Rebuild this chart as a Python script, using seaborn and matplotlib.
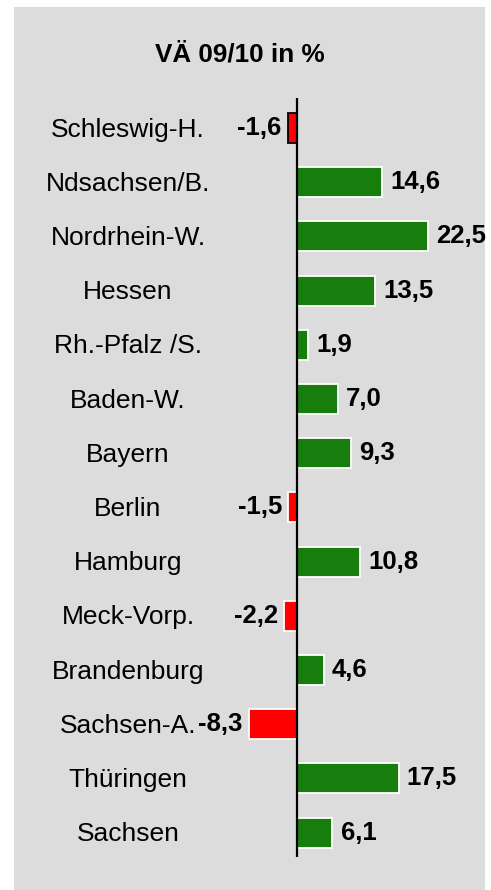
import matplotlib
matplotlib.use("Agg")
import matplotlib.pyplot as plt
import matplotlib.transforms as mtransforms
import seaborn as sns

# data
states = ["Schleswig-H.", "Ndsachsen/B.", "Nordrhein-W.", "Hessen", "Rh.-Pfalz /S.",
          "Baden-W.", "Bayern", "Berlin", "Hamburg", "Meck-Vorp.", "Brandenburg",
          "Sachsen-A.", "Thüringen", "Sachsen"]
change = [-1.6, 14.6, 22.5, 13.5, 1.9, 7.0, 9.3, -1.5, 10.8, -2.2, 4.6, -8.3, 17.5, 6.1]
title = "VÄ 09/10 in %"

GREEN = "#177d0c"
RED = "#ff0000"
PANEL = "#dcdcdc"

sns.set_style("white")
plt.rcParams["font.family"] = ["Liberation Sans", "DejaVu Sans"]
plt.rcParams["text.color"] = "black"

W, H = 491, 890
fig = plt.figure(figsize=(W / 100, H / 100), dpi=100, facecolor="white")
# grey panel spans x 14..485, y 7..890 (pixels)
ax = fig.add_axes([14 / W, 0, (485 - 14) / W, (890 - 7) / H])
ax.set_facecolor(PANEL)

colors = [RED if v < 0 else GREEN for v in change]
sns.barplot(x=change, y=states, hue=states, palette=colors, legend=False,
            orient="h", width=0.55, ax=ax, saturation=1)

for i, p in enumerate(ax.patches):
    p.set_edgecolor("black" if i == 0 else "white")
    p.set_linewidth(1.3)

# scale: 0 at x=297 px, ~5.8 px per unit; rows 54.2 px apart, first at y=128
ax.set_xlim((14 - 297) / 5.8, (485 - 297) / 5.8)
ax.set_ylim((890 - 128) / 54.2, (7 - 128) / 54.2)

n = len(states)
ax.vlines(0, -0.55, n - 0.55, color="black", lw=1.6, zorder=5)

for i, v in enumerate(change):
    txt = f"{v:.1f}".replace(".", ",")
    if v >= 0:
        ax.annotate(txt, (v, i), xytext=(6, 0), textcoords="offset points",
                    ha="left", va="center", fontsize=18.5, fontweight="bold")
    else:
        ax.annotate(txt, (v, i), xytext=(-4.5, 0), textcoords="offset points",
                    ha="right", va="center", fontsize=18.5, fontweight="bold")

trans = mtransforms.blended_transform_factory(ax.transAxes, ax.transData)
for i, s in enumerate(states):
    ax.text((128 - 14) / 471, i + 0.03, s, transform=trans, ha="center", va="center",
            fontsize=19)

ax.text((240 - 14) / 471, 1 - (55 - 7) / 883, title, transform=ax.transAxes,
        ha="center", va="center", fontsize=18.8, fontweight="bold")

ax.set_xticks([])
ax.set_yticks([])
ax.set_xlabel("")
ax.set_ylabel("")
for sp in ax.spines.values():
    sp.set_visible(False)

fig.savefig("out.png", dpi=100, facecolor="white")
